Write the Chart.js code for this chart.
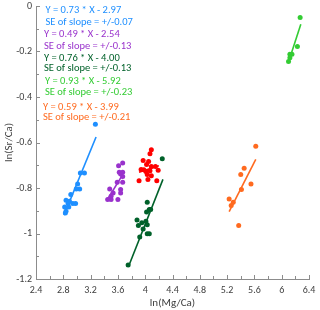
<!DOCTYPE html>
<html><head><meta charset="utf-8">
<script src="https://cdn.jsdelivr.net/npm/chart.js@4/dist/chart.umd.min.js"></script>
<style>
html,body{margin:0;padding:0;background:#fff}
#wrap{width:320px;height:310px;position:relative}
.ann{position:absolute;height:12px;line-height:12px;white-space:nowrap;font-size:10.5px;font-family:Carlito,'Liberation Sans Narrow','Liberation Sans',sans-serif}
</style>
</head><body><div id="wrap"><canvas id="c" width="320" height="310"></canvas></div>
<script>
// ---- data ----
const blueX = [3.27, 3.05, 3.11, 3.01, 3.04, 2.99, 2.91, 2.84, 2.89, 2.87, 2.94, 2.98, 2.82, 2.88, 2.84, 2.83];
const blueY = [-0.52, -0.734, -0.734, -0.782, -0.804, -0.804, -0.829, -0.854, -0.858, -0.868, -0.868, -0.868, -0.883, -0.883, -0.902, -0.91];
const purpleX = [3.67, 3.61, 3.62, 3.67, 3.64, 3.67, 3.59, 3.67, 3.48, 3.64, 3.53, 3.64, 3.50, 3.45, 3.50, 3.60];
const purpleY = [-0.690, -0.702, -0.731, -0.731, -0.738, -0.749, -0.775, -0.775, -0.804, -0.807, -0.822, -0.822, -0.836, -0.851, -0.851, -0.851];
const redX = [4.09, 4.07, 3.97, 4.05, 4.02, 3.94, 3.98, 4.09, 4.15, 4.01, 4.07, 4.19, 4.03, 4.09, 3.91, 4.04, 4.17];
const redY = [-0.632, -0.649, -0.679, -0.683, -0.697, -0.719, -0.720, -0.705, -0.705, -0.727, -0.724, -0.722, -0.741, -0.746, -0.768, -0.763, -0.768];
const dgreenX = [4.25, 4.03, 4.06, 4.08, 4.02, 3.88, 4.01, 3.95, 4.03, 3.90, 3.97, 3.92, 4.03, 4.06, 3.75];
const dgreenY = [-0.671, -0.863, -0.895, -0.895, -0.906, -0.941, -0.946, -0.953, -0.961, -0.965, -0.980, -1.015, -1.001, -1.001, -1.139];
const orangeX = [5.62, 5.45, 5.40, 5.55, 5.41, 5.23, 5.29, 5.26, 5.37];
const orangeY = [-0.617, -0.713, -0.741, -0.782, -0.807, -0.848, -0.863, -0.877, -0.965];
const greenX = [6.27, 6.23, 6.12, 6.15, 6.12, 6.10];
const greenY = [-0.050, -0.178, -0.212, -0.212, -0.227, -0.244];

const blueLineX = [2.81, 3.28], blueLineY = [-0.919, -0.576];
const purpleLineX = [3.44, 3.65], purpleLineY = [-0.854, -0.751];
const redLineX = [3.91, 4.20], redLineY = [-0.731, -0.702];
const dgreenLineX = [3.76, 4.26], dgreenLineY = [-1.142, -0.762];
const orangeLineX = [5.23, 5.62], orangeLineY = [-0.904, -0.674];
const greenLineX = [6.13, 6.28], greenLineY = [-0.219, -0.080];

const eqLabels = ['Y = 0.73 * X - 2.97', 'Y = 0.49 * X - 2.54', 'Y = 0.76 * X - 4.00', 'Y = 0.93 * X - 5.92', 'Y = 0.59 * X - 3.99'];
const seLabels = ['SE of slope = +/-0.07', 'SE of slope = +/-0.13', 'SE of slope = +/-0.13', 'SE of slope = +/-0.23', 'SE of slope = +/-0.21'];

const xTickValues = [2.4, 2.8, 3.2, 3.6, 4, 4.4, 4.8, 5.2, 5.6, 6, 6.4];
const yTickValues = [-1.2, -1, -0.8, -0.6, -0.4, -0.2, 0];

// ---- styles ----
const C = {blue:'#1E8FFF', purple:'#9932CC', red:'#FF0000', dgreen:'#00612A', orange:'#FF6A1F', green:'#33CC33'};
const eqColors = [C.blue, C.purple, C.dgreen, C.green, C.orange];
const FONT = "Carlito, 'Liberation Sans Narrow', 'Liberation Sans', sans-serif";
const AXIS = '#8C8C8C', TXT = '#404040';

const pts = (xs, ys) => xs.map((x, i) => ({x, y: ys[i]}));
function scat(xs, ys, col) {
  return {type:'scatter', data: pts(xs, ys), backgroundColor: col, borderColor: col, pointRadius: 2.5, pointBorderWidth: 0, showLine: false, order: 2};
}
function line(xs, ys, col) {
  return {type:'scatter', data: pts(xs, ys), borderColor: col, backgroundColor: col, pointRadius: 0, showLine: true, borderWidth: 1.6, order: 1};
}
const fmt = v => { const s = String(Number(Number(v).toFixed(1))); return s === '-0' ? '0' : s; };

const innerTicks = {
  id: 'innerTicks',
  afterDraw(chart) {
    const {ctx, scales:{x, y}} = chart;
    ctx.save();
    ctx.strokeStyle = AXIS; ctx.lineWidth = 1;
    const yb = y.getPixelForValue(-1.2), xl = x.getPixelForValue(2.4);
    for (let i = 0; i <= 20; i++) {
      const px = Math.round(x.getPixelForValue(2.4 + i * 0.2)) + 0.5;
      const len = i % 2 === 0 ? 4 : 3;
      ctx.beginPath(); ctx.moveTo(px, yb); ctx.lineTo(px, yb - len); ctx.stroke();
    }
    for (let i = 0; i <= 12; i++) {
      const py = Math.round(y.getPixelForValue(-i * 0.1)) + 0.5;
      const len = i % 2 === 0 ? 4 : 3;
      ctx.beginPath(); ctx.moveTo(xl, py); ctx.lineTo(xl + len, py); ctx.stroke();
    }
    ctx.restore();
  }
};

new Chart(document.getElementById('c'), {
  type: 'scatter',
  data: {datasets: [
    scat(blueX, blueY, C.blue), scat(purpleX, purpleY, C.purple), scat(redX, redY, C.red),
    scat(dgreenX, dgreenY, C.dgreen), scat(orangeX, orangeY, C.orange), scat(greenX, greenY, C.green),
    line(blueLineX, blueLineY, C.blue), line(purpleLineX, purpleLineY, C.purple), line(redLineX, redLineY, C.red),
    line(dgreenLineX, dgreenLineY, C.dgreen), line(orangeLineX, orangeLineY, C.orange), line(greenLineX, greenLineY, C.green)
  ]},
  options: {
    responsive: false, animation: false, devicePixelRatio: 1,
    layout: {padding: {top: 6, right: 11, left: 0, bottom: 0}},
    plugins: {legend: {display: false}, tooltip: {enabled: false}},
    scales: {
      x: {
        type: 'linear', min: 2.4, max: 6.4,
        afterBuildTicks: s => { s.ticks = xTickValues.map(v => ({value: v})); },
        afterFit: s => { s.height = 31; s.paddingLeft = 0; s.paddingRight = 0; },
        grid: {display: true, drawOnChartArea: false, drawTicks: false},
        border: {color: AXIS, width: 1},
        ticks: {color: TXT, font: {family: FONT, size: 10}, padding: 5, maxRotation: 0, autoSkip: false,
                callback: v => fmt(v)},
        title: {display: true, text: 'ln(Mg/Ca)', color: TXT, font: {family: FONT, size: 11}, padding: {top: 0, bottom: 0}}
      },
      y: {
        type: 'linear', min: -1.2, max: 0,
        afterBuildTicks: s => { s.ticks = yTickValues.map(v => ({value: v})); },
        afterFit: s => { s.width = 36; s.paddingTop = 0; s.paddingBottom = 0; },
        grid: {display: true, drawOnChartArea: false, drawTicks: false},
        border: {color: AXIS, width: 1},
        ticks: {color: TXT, font: {family: FONT, size: 10}, padding: 4, autoSkip: false,
                callback: v => fmt(v)},
        title: {display: true, text: 'ln(Sr/Ca)', color: TXT, font: {family: FONT, size: 11}, padding: {top: 3, bottom: 0}}
      }
    }
  },
  plugins: [innerTicks]
});

// equation annotations as HTML text over the chart
const rows = [[45.5,10,22.3],[44,34.3,45.7],[44,57.7,68.3],[45,81,91.7],[43,106.7,116.7]];
const wrap = document.getElementById('wrap');
rows.forEach((r, i) => {
  [[eqLabels[i], r[1]], [seLabels[i], r[2]]].forEach(([t, yc]) => {
    const d = document.createElement('div');
    d.className = 'ann';
    d.style.left = r[0] + 'px';
    d.style.top = (yc - 6) + 'px';
    d.style.color = eqColors[i];
    d.textContent = t;
    wrap.appendChild(d);
  });
});
</script>
</body></html>
